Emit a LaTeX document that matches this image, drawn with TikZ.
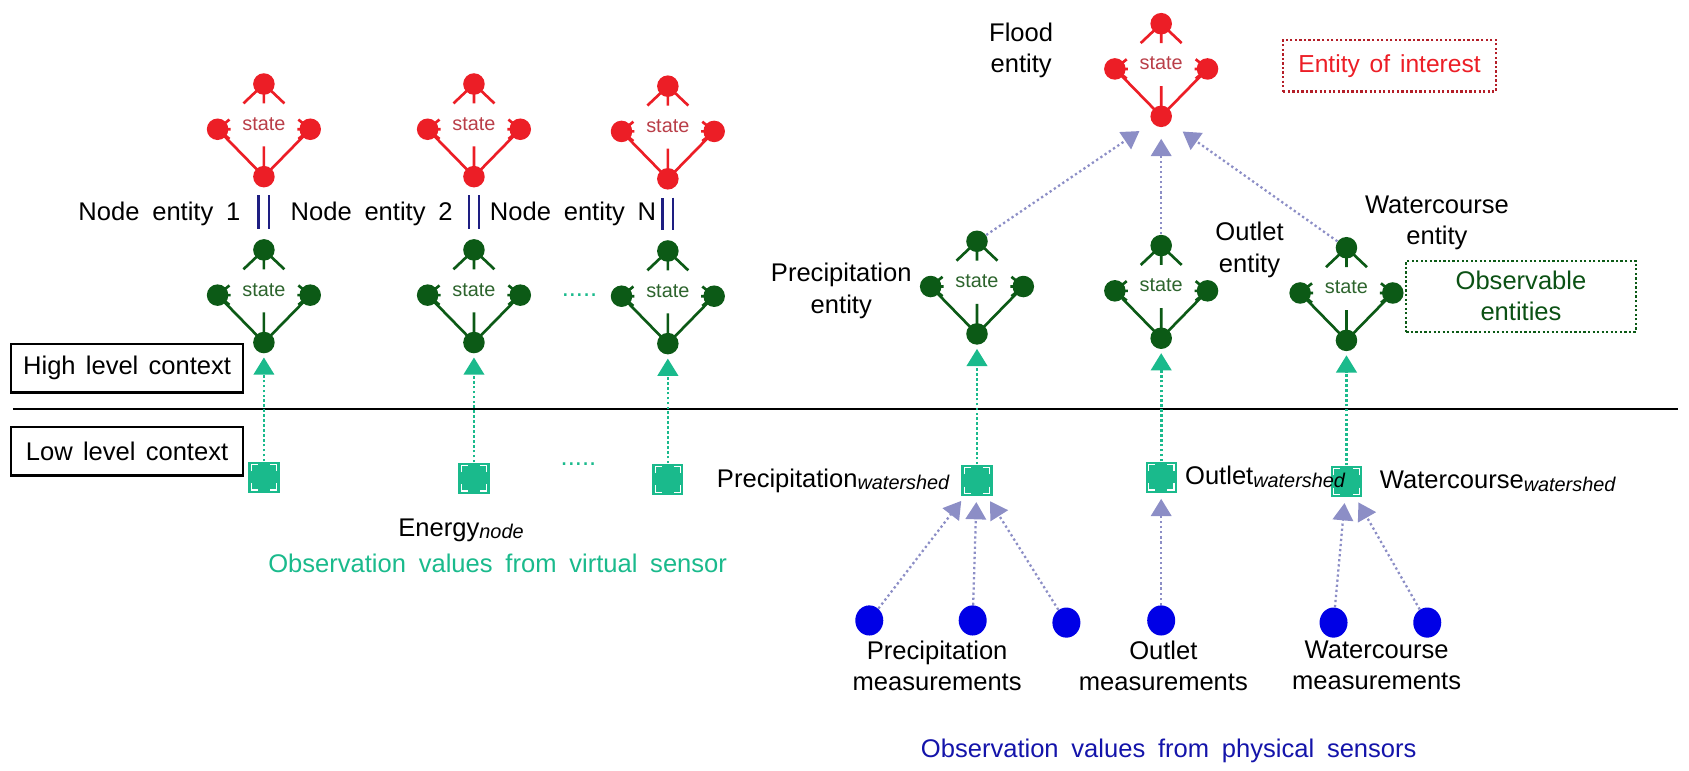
\documentclass[tikz,border=0pt]{standalone}
\usepackage{fontspec}
\setmainfont{Liberation Sans}
\usetikzlibrary{arrows.meta,positioning,shapes.geometric}

\definecolor{entred}{RGB}{236,30,38}
\definecolor{statered}{RGB}{185,62,72}
\definecolor{entgreen}{RGB}{12,90,22}
\definecolor{stategreen}{RGB}{45,100,45}
\definecolor{sqteal}{RGB}{26,186,140}
\definecolor{lavender}{RGB}{140,142,198}
\definecolor{navy}{RGB}{30,30,130}
\definecolor{measblue}{RGB}{0,0,230}
\definecolor{physblue}{RGB}{20,20,170}
\definecolor{boxred}{RGB}{180,30,40}

\newcommand{\sublbl}[1]{\raisebox{-1.5pt}{\fontsize{10.5}{12}\selectfont\itshape #1}}
\protected\def\widesp{\spaceskip=0.5em\relax}
\protected\def\midsp{\spaceskip=0.4em\relax}

\tikzset{
  pics/entity/.style n args={2}{code={
    \draw[line width=1.4pt,#1]
      (0,-38) -- (-19,-20) (0,-38) -- (0,-20) (0,-38) -- (19,-20)
      (-43,4) -- (-32,-5) (-43,4) -- (-31,4) (-43,4) -- (-32,13)
      (43,4) -- (32,-5) (43,4) -- (31,4) (43,4) -- (32,13)
      (0,48) -- (0,20) (0,48) -- (-43,4) (0,48) -- (43,4);
    \node[dot,fill=#1] (-t) at (0,-38) {};
    \node[dot,fill=#1] (-l) at (-43,4) {};
    \node[dot,fill=#1] (-r) at (43,4) {};
    \node[dot,fill=#1] (-b) at (0,48) {};
    \node[statetext,text=#2] (-s) at (0,-1) {state};
  }}
}

\begin{document}
\begin{tikzpicture}[x=0.02cm,y=-0.02cm,
  dot/.style={circle,inner sep=0pt,minimum size=0.4cm},
  statetext/.style={font=\fontsize{10.5}{12}\selectfont,inner sep=1pt},
  lbl/.style={font=\fontsize{13.5}{16.5}\selectfont\widesp,align=center,inner sep=1pt},
  ctxbox/.style={draw,line width=1.2pt,minimum width=4.3cm,minimum height=0.9cm,font=\fontsize{13.5}{16}\selectfont\midsp},
  tagbox/.style={draw,line width=1.2pt,dash pattern=on 1.2pt off 1.2pt,align=center,font=\fontsize{13.5}{16.5}\selectfont},
  sensor/.style={rectangle,fill=sqteal,inner sep=0pt,minimum size=0.58cm,
    path picture={\foreach \c/\sx/\sy in {south west/1/1,south east/-1/1,north west/1/-1,north east/-1/-1}
      \draw[white,line width=0.6pt] ([shift={({\sx*1.5pt},{\sy*5pt})}]path picture bounding box.\c)
        -- ++(0,{-\sy*3.5pt}) -- ++({\sx*3.5pt},0);}},
  meas/.style={ellipse,fill=measblue,inner sep=0pt,minimum width=0.52cm,minimum height=0.56cm},
  virt/.style={draw=sqteal,line width=1.4pt,dash pattern=on 1.4pt off 1.2pt,
    -{Triangle[width=0.38cm,length=0.32cm]},shorten >=2pt},
  phys/.style={draw=lavender,line width=1.2pt,dash pattern=on 1.2pt off 1.5pt,
    -{Triangle[width=0.38cm,length=0.32cm]},shorten >=3pt},
  dbl/.style={draw=navy,double=white,line width=1.1pt,double distance=4.6pt,shorten <=4pt,shorten >=5pt}]

\useasboundingbox (0,0) rectangle (1568,715);

% entities of interest
\pic (n1) at (245,116) {entity={entred}{statered}};
\pic (n2) at (440,116) {entity={entred}{statered}};
\pic (nN) at (620,118) {entity={entred}{statered}};
\pic (flood) at (1078,60) {entity={entred}{statered}};

\node[lbl] (floodlbl) at (948,47) {Flood\\entity};
\node[tagbox,draw=boxred,text=entred,font=\fontsize{13}{16}\selectfont\midsp,minimum width=3.95cm,minimum height=0.96cm] (interest) at (1290,61) {Entity of interest};

\node[lbl] (n1lbl) at (148,199) {Node entity 1};
\node[lbl] (n2lbl) at (345,199) {Node entity 2};
\node[lbl] (nNlbl) at (532,199) {Node entity N};

% observable entities
\pic (g1) at (245,270) {entity={entgreen}{stategreen}};
\pic (g2) at (440,270) {entity={entgreen}{stategreen}};
\pic (gN) at (620,271) {entity={entgreen}{stategreen}};
\pic (prec) at (907,262) {entity={entgreen}{stategreen}};
\pic (outl) at (1078,266) {entity={entgreen}{stategreen}};
\pic (wcrs) at (1250,268) {entity={entgreen}{stategreen}};

\draw[dbl] (n1-b) -- (g1-t);
\draw[dbl] (n2-b) -- (g2-t);
\draw[dbl] (nN-b) -- (gN-t);

\node[lbl] (preclbl) at (781,270) {Precipitation\\entity};
\node[lbl] (outllbl) at (1160,232) {Outlet\\entity};
\node[lbl] (wcrslbl) at (1334,207) {Watercourse\\entity};
\node[tagbox,draw=entgreen,text=entgreen!90!black,minimum width=4.26cm,minimum height=1.32cm] (observ) at (1412,275) {Observable\\entities};

\node[lbl,text=sqteal] (dots1) at (538,274) {.....};

% context levels
\node[ctxbox] (high) at (118,342) {High level context};
\node[ctxbox] (low) at (118,419) {Low level context};
\draw[line width=1pt] (12,380) -- (1558,380);

% sensors
\node[sensor] (vs1) at (245,443) {};
\node[sensor] (vs2) at (440,444) {};
\node[sensor] (vsN) at (620,445) {};
\node[sensor] (psq) at (907,446) {};
\node[sensor] (osq) at (1078,443) {};
\node[sensor] (wsq) at (1250,447) {};

\node[lbl,text=sqteal] (dots2) at (537,431) {.....};
\node[lbl] (elbl) at (428,492) {Energy\sublbl{node}};
\node[lbl,text=sqteal] (virtlbl) at (462,523) {Observation values from virtual sensor};
\node[lbl,left=5pt of psq] (psqlbl) {Precipitation\sublbl{watershed}};
\node[lbl,right=3pt of osq] (osqlbl) {Outlet\sublbl{watershed}};
\node[lbl,right=8pt of wsq] (wsqlbl) {Watercourse\sublbl{watershed}};

\draw[virt] (vs1) -- (g1-b);
\draw[virt] (vs2) -- (g2-b);
\draw[virt] (vsN) -- (gN-b);
\draw[virt] (psq) -- (prec-b);
\draw[virt] (osq) -- (outl-b);
\draw[virt] (wsq) -- (wcrs-b);

\draw[phys,shorten >=8pt] (prec-t) -- (flood-b);
\draw[phys,shorten >=6pt] (outl-t) -- (flood-b);
\draw[phys,shorten >=8pt] (wcrs-t) -- (flood-b);

% physical sensors
\node[meas] (m1) at (807,576) {};
\node[meas] (m2) at (903,576) {};
\node[meas] (m3) at (990,578) {};
\node[meas] (m4) at (1078,576) {};
\node[meas] (m5) at (1238,578) {};
\node[meas] (m6) at (1325,578) {};

\draw[phys] (m1) -- (psq);
\draw[phys] (m2) -- (psq);
\draw[phys] (m3) -- (psq);
\draw[phys] (m4) -- (osq);
\draw[phys] (m5) -- (wsq);
\draw[phys] (m6) -- (wsq);

\node[lbl] (m1lbl) at (870,618) {Precipitation\\measurements};
\node[lbl] (m4lbl) at (1080,618) {Outlet\\measurements};
\node[lbl] (m6lbl) at (1278,618) {Watercourse\\measurements};
\node[lbl,text=physblue] (physlbl) at (1085,697) {Observation values from physical sensors};
\end{tikzpicture}
\end{document}
